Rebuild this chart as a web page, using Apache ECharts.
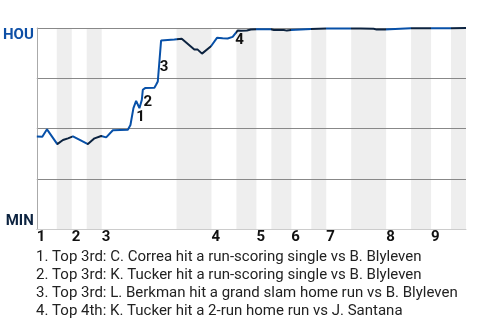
<!DOCTYPE html>
<html><head><meta charset="utf-8">
<script src="https://cdn.jsdelivr.net/npm/echarts@6/dist/echarts.min.js"></script>
<style>html,body{margin:0;padding:0;background:#fff}#c{width:480px;height:320px}</style>
</head><body><div id="c"></div>
<script>
// event position (plate-appearance index) and HOU win probability (%)
const eventX = [0,1.1,2.04,4.1,5.24,6.24,7.24,10.24,11.56,12.9,13.9,15.24,18.24,18.76,19.36,19.9,20.56,21.04,21.24,21.7,23.56,23.9,24.24,24.9,25.24,27.56,29.04,31.56,32.24,33.1,34.9,36.1,37.24,38.24,39.24,40.24,40.9,42.1,42.9,44.1,46.9,47.5,49.5,50.1,50.9,51.2,54.9,58.1,62.9,64.9,67.5,68.1,69.7,70.1,74.9,79.1,82.9,86];
const houWP = [46,45.9,49.6,42.25,44.25,45.1,46.1,42.25,45.1,46.25,45.6,49.1,49.4,51.75,60.1,63.75,60.1,64.25,69.25,70.1,70.25,71.75,73.4,93.75,94.25,94.25,94.6,89.25,89.25,87.25,90.9,95.1,94.9,94.75,95.6,98.75,98.6,98.75,99.25,99.4,99.4,99.0,99.0,98.7,99.0,99.5,99.5,99.7,99.75,99.7,99.6,99.2,99.2,99.8,99.85,99.85,99.9,100];
// half-inning boundaries (event index)
const inningStart = [0,7,13,35,44,51,58,70,79];
const bottomHalves = [[4,7],[10,13],[28,35],[40,44],[47,51],[55,58],[63,70],[75,79],[83,86]];
const inningLabels = ['1','2','3','4','5','6','7','8','9'];
const totalEvents = 86;
// annotated events: data index in series
const annIndex = [14,18,23,35];
const annLabels = ['1','2','3','4'];
const notes = [
  '1. Top 3rd: C. Correa hit a run-scoring single vs B. Blyleven',
  '2. Top 3rd: K. Tucker hit a run-scoring single vs B. Blyleven',
  '3. Top 3rd: L. Berkman hit a grand slam home run vs B. Blyleven',
  '4. Top 4th: K. Tucker hit a 2-run home run vs J. Santana'
];
const annOffsets = [[7,9],[5,12],[3,27],[2,10]];

const BLUE = '#0750a8', NAVY = '#0c2340';
const chart = echarts.init(document.getElementById('c'), null, {renderer:'canvas'});
const data = eventX.map((x,i)=>[x,houWP[i]]);
chart.setOption({
  animation:false,
  textStyle:{fontFamily:'Roboto'},
  title:{text:notes.join('\n'), left:31, top:243,
    textStyle:{fontFamily:'Roboto', fontSize:15, fontWeight:'normal', color:'#222', lineHeight:18}},
  grid:{left:35, right:14, top:28, bottom:91},
  xAxis:{type:'value', min:0, max:totalEvents, z:2,
    axisLine:{show:true, lineStyle:{color:'#ccc'}}, axisTick:{show:false}, splitLine:{show:false},
    axisLabel:{customValues:inningStart, formatter:(v)=>inningLabels[inningStart.indexOf(v)],
      align:'left', margin:1, fontSize:15, fontWeight:'bold', color:'#111', fontFamily:'Roboto'}},
  yAxis:{type:'value', min:0, max:100, interval:25, z:2,
    axisLine:{show:true, lineStyle:{color:'#aaa'}}, axisTick:{show:false},
    splitLine:{show:true, lineStyle:{color:'#888'}},
    axisLabel:{customValues:[0,100], margin:3, fontFamily:'Roboto',
      formatter:(v)=> v===100 ? '{h|HOU}' : '{m|MIN}',
      rich:{h:{fontSize:15, fontWeight:'bold', color:'#0d4fa6', padding:[14,0,0,0]},
            m:{fontSize:15, fontWeight:'bold', color:'#0c2340', padding:[0,0,15,0]}}}},
  visualMap:{show:false, type:'piecewise', dimension:0, seriesIndex:0,
    pieces:bottomHalves.map(b=>({gte:b[0], lt:b[1], color:NAVY})),
    outOfRange:{color:BLUE}},
  series:[{type:'line', data:data, showSymbol:false, symbol:'none',
    lineStyle:{width:2}, z:3,
    markArea:{silent:true, z:1, itemStyle:{color:'#eeeeee'},
      data:bottomHalves.map(b=>[{xAxis:b[0]},{xAxis:b[1]}])},
    markPoint:{symbol:'circle', symbolSize:0, silent:true,
      data:annIndex.map((idx,k)=>({coord:data[idx], name:annLabels[k],
        label:{show:true, formatter:annLabels[k], offset:annOffsets[k], position:'inside',
          fontSize:15, fontWeight:'bold', color:'#111', fontFamily:'Roboto'}}))}
  }]
});
</script></body></html>
